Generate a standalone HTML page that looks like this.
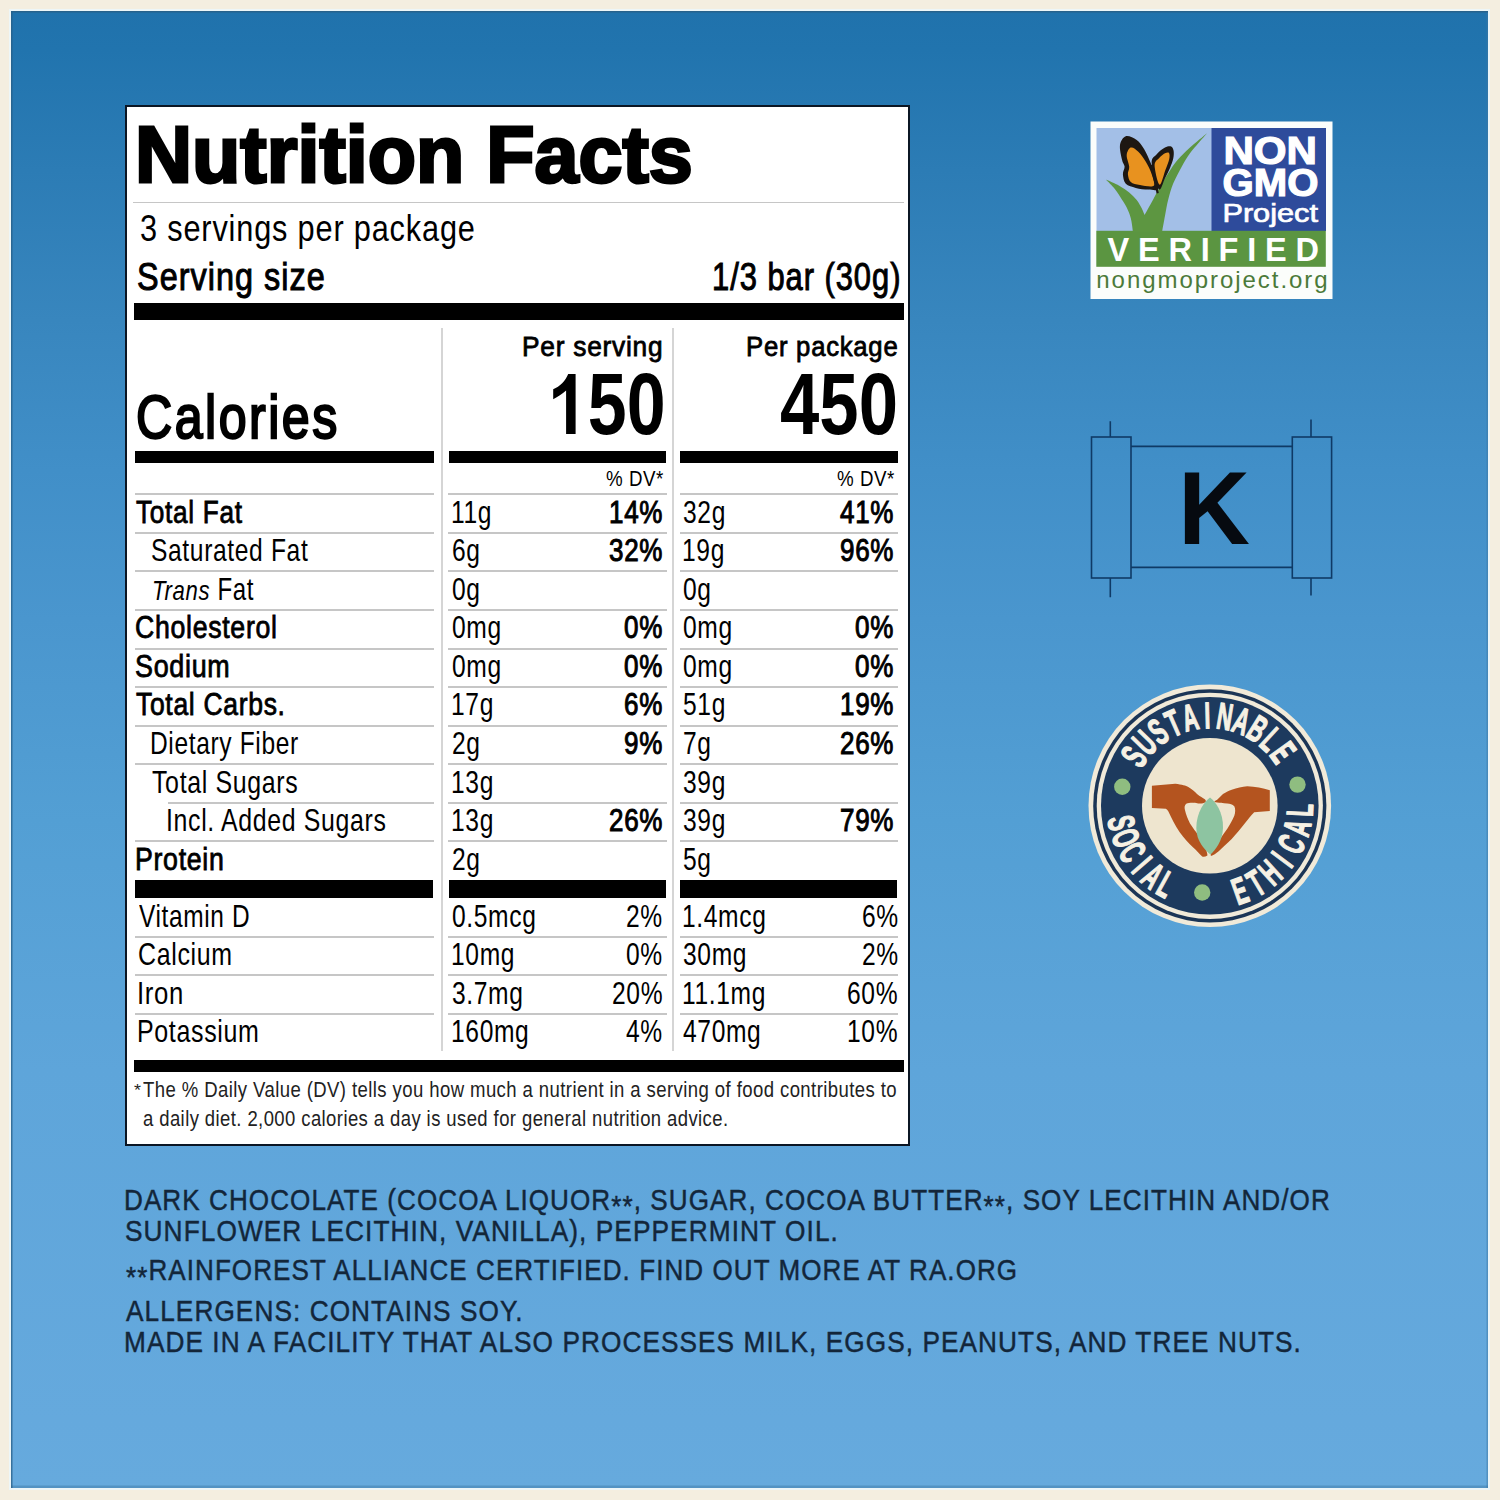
<!DOCTYPE html>
<html><head><meta charset="utf-8">
<style>
html,body{margin:0;padding:0;}
body{width:1500px;height:1500px;position:relative;overflow:hidden;background:#f4eee0;font-family:"Liberation Sans",sans-serif;}
#bg{position:absolute;left:11px;top:11px;width:1477px;height:1477px;background:linear-gradient(to bottom,#2072ac 0%,#2174ae 2.6%,#2c7cb5 10.8%,#3886be 20.9%,#418fc8 31.1%,#4a96ce 41.2%,#539fd4 54.8%,#5ea5da 71.7%,#65a9dd 95.4%,#66aadd 100%);box-shadow:0 0 0 2px #edf6f8,inset 0 1.5px 0 #27628c,inset 1.5px 0 0 rgba(40,95,135,.75),inset 0 -2.5px 0 rgba(60,120,165,.45),inset -1.5px 0 0 rgba(60,120,165,.5);}
#label{position:absolute;left:125px;top:105px;width:781px;height:1037px;border:2px solid #0b1624;background:#fff;}
.t{position:absolute;white-space:nowrap;transform-origin:0 0;}
.r{position:absolute;background:#000;}
.g{position:absolute;background:#c6c6c6;}
.v{position:absolute;background:#d5d5d5;}
</style></head><body>
<div id="bg"></div>
<div id="label"></div>
<div class="g" style="left:133px;top:202.3px;width:771.00px;height:1.20px"></div>
<div class="r" style="left:133.5px;top:302.5px;width:770.30px;height:17.80px"></div>
<div class="v" style="left:441px;top:328px;width:1.80px;height:723.00px"></div>
<div class="v" style="left:672.3px;top:328px;width:1.80px;height:723.00px"></div>
<div class="r" style="left:135px;top:451px;width:298.50px;height:12.30px"></div>
<div class="r" style="left:448.6px;top:451px;width:217.60px;height:12.30px"></div>
<div class="r" style="left:679.6px;top:451px;width:218.20px;height:12.30px"></div>
<div class="g" style="left:134.6px;top:493.3px;width:299.10px;height:2.00px"></div>
<div class="g" style="left:448px;top:493.3px;width:218.60px;height:2.00px"></div>
<div class="g" style="left:679.9px;top:493.3px;width:218.00px;height:2.00px"></div>
<div class="g" style="left:134.6px;top:531.86px;width:299.10px;height:2.00px"></div>
<div class="g" style="left:448px;top:531.86px;width:218.60px;height:2.00px"></div>
<div class="g" style="left:679.9px;top:531.86px;width:218.00px;height:2.00px"></div>
<div class="g" style="left:134.6px;top:570.4200000000001px;width:299.10px;height:2.00px"></div>
<div class="g" style="left:448px;top:570.4200000000001px;width:218.60px;height:2.00px"></div>
<div class="g" style="left:679.9px;top:570.4200000000001px;width:218.00px;height:2.00px"></div>
<div class="g" style="left:134.6px;top:608.98px;width:299.10px;height:2.00px"></div>
<div class="g" style="left:448px;top:608.98px;width:218.60px;height:2.00px"></div>
<div class="g" style="left:679.9px;top:608.98px;width:218.00px;height:2.00px"></div>
<div class="g" style="left:134.6px;top:647.54px;width:299.10px;height:2.00px"></div>
<div class="g" style="left:448px;top:647.54px;width:218.60px;height:2.00px"></div>
<div class="g" style="left:679.9px;top:647.54px;width:218.00px;height:2.00px"></div>
<div class="g" style="left:134.6px;top:686.1px;width:299.10px;height:2.00px"></div>
<div class="g" style="left:448px;top:686.1px;width:218.60px;height:2.00px"></div>
<div class="g" style="left:679.9px;top:686.1px;width:218.00px;height:2.00px"></div>
<div class="g" style="left:134.6px;top:724.6600000000001px;width:299.10px;height:2.00px"></div>
<div class="g" style="left:448px;top:724.6600000000001px;width:218.60px;height:2.00px"></div>
<div class="g" style="left:679.9px;top:724.6600000000001px;width:218.00px;height:2.00px"></div>
<div class="g" style="left:134.6px;top:763.22px;width:299.10px;height:2.00px"></div>
<div class="g" style="left:448px;top:763.22px;width:218.60px;height:2.00px"></div>
<div class="g" style="left:679.9px;top:763.22px;width:218.00px;height:2.00px"></div>
<div class="g" style="left:167.7px;top:801.78px;width:266.00px;height:2.00px"></div>
<div class="g" style="left:448px;top:801.78px;width:218.60px;height:2.00px"></div>
<div class="g" style="left:679.9px;top:801.78px;width:218.00px;height:2.00px"></div>
<div class="g" style="left:134.6px;top:840.34px;width:299.10px;height:2.00px"></div>
<div class="g" style="left:448px;top:840.34px;width:218.60px;height:2.00px"></div>
<div class="g" style="left:679.9px;top:840.34px;width:218.00px;height:2.00px"></div>
<div class="r" style="left:135px;top:879.7px;width:298.30px;height:18.50px"></div>
<div class="r" style="left:448.6px;top:879.7px;width:217.80px;height:18.50px"></div>
<div class="r" style="left:679.6px;top:879.7px;width:217.70px;height:18.50px"></div>
<div class="g" style="left:134.6px;top:935.8px;width:299.10px;height:2.00px"></div>
<div class="g" style="left:448px;top:935.8px;width:218.60px;height:2.00px"></div>
<div class="g" style="left:679.9px;top:935.8px;width:218.00px;height:2.00px"></div>
<div class="g" style="left:134.6px;top:974.2px;width:299.10px;height:2.00px"></div>
<div class="g" style="left:448px;top:974.2px;width:218.60px;height:2.00px"></div>
<div class="g" style="left:679.9px;top:974.2px;width:218.00px;height:2.00px"></div>
<div class="g" style="left:134.6px;top:1013.0px;width:299.10px;height:2.00px"></div>
<div class="g" style="left:448px;top:1013.0px;width:218.60px;height:2.00px"></div>
<div class="g" style="left:679.9px;top:1013.0px;width:218.00px;height:2.00px"></div>
<div class="r" style="left:133.5px;top:1060px;width:770.50px;height:12.20px"></div>
<div class="t" style="left:134.52px;top:114.80px;font-size:79.5px;line-height:79.5px;font-weight:bold;transform:scaleX(0.9942);-webkit-text-stroke:3.0px #000;">Nutrition Facts</div>
<div class="t" style="left:139.53px;top:209.80px;font-size:37.0px;line-height:37.0px;transform:scaleX(0.8298);letter-spacing:1.0px;">3 servings per package</div>
<div class="t" style="left:137.20px;top:258.00px;font-size:38.0px;line-height:38.0px;transform:scaleX(0.8528);letter-spacing:1.2px;-webkit-text-stroke:1.0px #000;">Serving size</div>
<div class="t" style="left:711.76px;top:258.00px;font-size:38.0px;line-height:38.0px;transform:scaleX(0.8122);letter-spacing:1.2px;-webkit-text-stroke:1.0px #000;">1/3 bar (30g)</div>
<div class="t" style="left:136.06px;top:387.30px;font-size:61.0px;line-height:61.0px;transform:scaleX(0.8224);letter-spacing:3.0px;-webkit-text-stroke:2.3px #000;">Calories</div>
<div class="t" style="left:522.42px;top:333.00px;font-size:27.5px;line-height:27.5px;transform:scaleX(0.9556);letter-spacing:0.8px;-webkit-text-stroke:0.8px #000;">Per serving</div>
<div class="t" style="left:745.77px;top:333.20px;font-size:27.5px;line-height:27.5px;transform:scaleX(0.9340);letter-spacing:0.8px;-webkit-text-stroke:0.8px #000;">Per package</div>
<div class="t" style="left:548.99px;top:361.00px;font-size:87.6px;line-height:87.6px;font-weight:bold;transform:scaleX(0.7974);"><span style="visibility:hidden">1</span>50</div>
<div class="t" style="left:779.71px;top:361.00px;font-size:87.6px;line-height:87.6px;font-weight:bold;transform:scaleX(0.8071);">450</div>
<div class="t" style="left:606.02px;top:467.50px;font-size:22.4px;line-height:22.4px;transform:scaleX(0.8374);letter-spacing:0.6px;">% DV*</div>
<div class="t" style="left:837.32px;top:467.50px;font-size:22.4px;line-height:22.4px;transform:scaleX(0.8374);letter-spacing:0.6px;">% DV*</div>
<div class="t" style="left:135.55px;top:496.60px;font-size:30.5px;line-height:30.5px;transform:scaleX(0.8586);letter-spacing:0.8px;-webkit-text-stroke:0.8px #000;">Total Fat</div>
<div class="t" style="left:450.88px;top:496.60px;font-size:30.5px;line-height:30.5px;transform:scaleX(0.8062);letter-spacing:0.8px;">11g</div>
<div class="t" style="left:609.01px;top:496.60px;font-size:30.5px;line-height:30.5px;transform:scaleX(0.8529);letter-spacing:0.8px;-webkit-text-stroke:1.0px #000;">14%</div>
<div class="t" style="left:682.64px;top:496.60px;font-size:30.5px;line-height:30.5px;transform:scaleX(0.8062);letter-spacing:0.8px;">32g</div>
<div class="t" style="left:840.21px;top:496.60px;font-size:30.5px;line-height:30.5px;transform:scaleX(0.8529);letter-spacing:0.8px;-webkit-text-stroke:1.0px #000;">41%</div>
<div class="t" style="left:151.02px;top:535.16px;font-size:30.5px;line-height:30.5px;transform:scaleX(0.8062);letter-spacing:0.8px;">Saturated Fat</div>
<div class="t" style="left:451.51px;top:535.16px;font-size:30.5px;line-height:30.5px;transform:scaleX(0.8062);letter-spacing:0.8px;">6g</div>
<div class="t" style="left:609.01px;top:535.16px;font-size:30.5px;line-height:30.5px;transform:scaleX(0.8529);letter-spacing:0.8px;-webkit-text-stroke:1.0px #000;">32%</div>
<div class="t" style="left:681.88px;top:535.16px;font-size:30.5px;line-height:30.5px;transform:scaleX(0.8062);letter-spacing:0.8px;">19g</div>
<div class="t" style="left:840.21px;top:535.16px;font-size:30.5px;line-height:30.5px;transform:scaleX(0.8529);letter-spacing:0.8px;-webkit-text-stroke:1.0px #000;">96%</div>
<div class="t" style="left:151.70px;top:573.72px;font-size:30.5px;line-height:30.5px;transform:scaleX(0.7892);letter-spacing:0.8px;"><i style="font-size:0.92em">Trans</i> Fat</div>
<div class="t" style="left:451.76px;top:573.72px;font-size:30.5px;line-height:30.5px;transform:scaleX(0.8062);letter-spacing:0.8px;">0g</div>
<div class="t" style="left:682.76px;top:573.72px;font-size:30.5px;line-height:30.5px;transform:scaleX(0.8062);letter-spacing:0.8px;">0g</div>
<div class="t" style="left:135.02px;top:612.28px;font-size:30.5px;line-height:30.5px;transform:scaleX(0.8746);letter-spacing:0.8px;-webkit-text-stroke:0.8px #000;">Cholesterol</div>
<div class="t" style="left:451.76px;top:612.28px;font-size:30.5px;line-height:30.5px;transform:scaleX(0.8062);letter-spacing:0.8px;">0mg</div>
<div class="t" style="left:623.94px;top:612.28px;font-size:30.5px;line-height:30.5px;transform:scaleX(0.8529);letter-spacing:0.8px;-webkit-text-stroke:1.0px #000;">0%</div>
<div class="t" style="left:682.76px;top:612.28px;font-size:30.5px;line-height:30.5px;transform:scaleX(0.8062);letter-spacing:0.8px;">0mg</div>
<div class="t" style="left:855.14px;top:612.28px;font-size:30.5px;line-height:30.5px;transform:scaleX(0.8529);letter-spacing:0.8px;-webkit-text-stroke:1.0px #000;">0%</div>
<div class="t" style="left:135.04px;top:650.84px;font-size:30.5px;line-height:30.5px;transform:scaleX(0.8821);letter-spacing:0.8px;-webkit-text-stroke:0.8px #000;">Sodium</div>
<div class="t" style="left:451.76px;top:650.84px;font-size:30.5px;line-height:30.5px;transform:scaleX(0.8062);letter-spacing:0.8px;">0mg</div>
<div class="t" style="left:623.94px;top:650.84px;font-size:30.5px;line-height:30.5px;transform:scaleX(0.8529);letter-spacing:0.8px;-webkit-text-stroke:1.0px #000;">0%</div>
<div class="t" style="left:682.76px;top:650.84px;font-size:30.5px;line-height:30.5px;transform:scaleX(0.8062);letter-spacing:0.8px;">0mg</div>
<div class="t" style="left:855.14px;top:650.84px;font-size:30.5px;line-height:30.5px;transform:scaleX(0.8529);letter-spacing:0.8px;-webkit-text-stroke:1.0px #000;">0%</div>
<div class="t" style="left:135.84px;top:689.40px;font-size:30.5px;line-height:30.5px;transform:scaleX(0.8683);letter-spacing:0.8px;-webkit-text-stroke:0.8px #000;">Total Carbs.</div>
<div class="t" style="left:450.88px;top:689.40px;font-size:30.5px;line-height:30.5px;transform:scaleX(0.8062);letter-spacing:0.8px;">17g</div>
<div class="t" style="left:623.94px;top:689.40px;font-size:30.5px;line-height:30.5px;transform:scaleX(0.8529);letter-spacing:0.8px;-webkit-text-stroke:1.0px #000;">6%</div>
<div class="t" style="left:682.63px;top:689.40px;font-size:30.5px;line-height:30.5px;transform:scaleX(0.8062);letter-spacing:0.8px;">51g</div>
<div class="t" style="left:840.21px;top:689.40px;font-size:30.5px;line-height:30.5px;transform:scaleX(0.8529);letter-spacing:0.8px;-webkit-text-stroke:1.0px #000;">19%</div>
<div class="t" style="left:150.36px;top:727.96px;font-size:30.5px;line-height:30.5px;transform:scaleX(0.8047);letter-spacing:0.8px;">Dietary Fiber</div>
<div class="t" style="left:451.53px;top:727.96px;font-size:30.5px;line-height:30.5px;transform:scaleX(0.8062);letter-spacing:0.8px;">2g</div>
<div class="t" style="left:623.94px;top:727.96px;font-size:30.5px;line-height:30.5px;transform:scaleX(0.8529);letter-spacing:0.8px;-webkit-text-stroke:1.0px #000;">9%</div>
<div class="t" style="left:682.51px;top:727.96px;font-size:30.5px;line-height:30.5px;transform:scaleX(0.8062);letter-spacing:0.8px;">7g</div>
<div class="t" style="left:840.21px;top:727.96px;font-size:30.5px;line-height:30.5px;transform:scaleX(0.8529);letter-spacing:0.8px;-webkit-text-stroke:1.0px #000;">26%</div>
<div class="t" style="left:151.83px;top:766.52px;font-size:30.5px;line-height:30.5px;transform:scaleX(0.8173);letter-spacing:0.8px;">Total Sugars</div>
<div class="t" style="left:450.88px;top:766.52px;font-size:30.5px;line-height:30.5px;transform:scaleX(0.8062);letter-spacing:0.8px;">13g</div>
<div class="t" style="left:682.64px;top:766.52px;font-size:30.5px;line-height:30.5px;transform:scaleX(0.8062);letter-spacing:0.8px;">39g</div>
<div class="t" style="left:166.22px;top:805.08px;font-size:30.5px;line-height:30.5px;transform:scaleX(0.8155);letter-spacing:0.8px;">Incl. Added Sugars</div>
<div class="t" style="left:450.88px;top:805.08px;font-size:30.5px;line-height:30.5px;transform:scaleX(0.8062);letter-spacing:0.8px;">13g</div>
<div class="t" style="left:609.01px;top:805.08px;font-size:30.5px;line-height:30.5px;transform:scaleX(0.8529);letter-spacing:0.8px;-webkit-text-stroke:1.0px #000;">26%</div>
<div class="t" style="left:682.64px;top:805.08px;font-size:30.5px;line-height:30.5px;transform:scaleX(0.8062);letter-spacing:0.8px;">39g</div>
<div class="t" style="left:840.21px;top:805.08px;font-size:30.5px;line-height:30.5px;transform:scaleX(0.8529);letter-spacing:0.8px;-webkit-text-stroke:1.0px #000;">79%</div>
<div class="t" style="left:134.90px;top:843.64px;font-size:30.5px;line-height:30.5px;transform:scaleX(0.8761);letter-spacing:0.8px;-webkit-text-stroke:0.8px #000;">Protein</div>
<div class="t" style="left:451.53px;top:843.64px;font-size:30.5px;line-height:30.5px;transform:scaleX(0.8062);letter-spacing:0.8px;">2g</div>
<div class="t" style="left:682.63px;top:843.64px;font-size:30.5px;line-height:30.5px;transform:scaleX(0.8062);letter-spacing:0.8px;">5g</div>
<div class="t" style="left:139.19px;top:900.50px;font-size:30.5px;line-height:30.5px;transform:scaleX(0.8016);letter-spacing:0.8px;">Vitamin D</div>
<div class="t" style="left:451.76px;top:900.50px;font-size:30.5px;line-height:30.5px;transform:scaleX(0.8062);letter-spacing:0.8px;">0.5mcg</div>
<div class="t" style="left:626.49px;top:900.50px;font-size:30.5px;line-height:30.5px;transform:scaleX(0.8062);letter-spacing:0.8px;">2%</div>
<div class="t" style="left:681.88px;top:900.50px;font-size:30.5px;line-height:30.5px;transform:scaleX(0.8062);letter-spacing:0.8px;">1.4mcg</div>
<div class="t" style="left:861.59px;top:900.50px;font-size:30.5px;line-height:30.5px;transform:scaleX(0.8062);letter-spacing:0.8px;">6%</div>
<div class="t" style="left:138.19px;top:939.10px;font-size:30.5px;line-height:30.5px;transform:scaleX(0.8188);letter-spacing:0.8px;">Calcium</div>
<div class="t" style="left:450.88px;top:939.10px;font-size:30.5px;line-height:30.5px;transform:scaleX(0.8062);letter-spacing:0.8px;">10mg</div>
<div class="t" style="left:626.49px;top:939.10px;font-size:30.5px;line-height:30.5px;transform:scaleX(0.8062);letter-spacing:0.8px;">0%</div>
<div class="t" style="left:682.64px;top:939.10px;font-size:30.5px;line-height:30.5px;transform:scaleX(0.8062);letter-spacing:0.8px;">30mg</div>
<div class="t" style="left:861.59px;top:939.10px;font-size:30.5px;line-height:30.5px;transform:scaleX(0.8062);letter-spacing:0.8px;">2%</div>
<div class="t" style="left:136.93px;top:977.70px;font-size:30.5px;line-height:30.5px;transform:scaleX(0.8423);letter-spacing:0.8px;">Iron</div>
<div class="t" style="left:451.64px;top:977.70px;font-size:30.5px;line-height:30.5px;transform:scaleX(0.8062);letter-spacing:0.8px;">3.7mg</div>
<div class="t" style="left:612.15px;top:977.70px;font-size:30.5px;line-height:30.5px;transform:scaleX(0.8062);letter-spacing:0.8px;">20%</div>
<div class="t" style="left:681.88px;top:977.70px;font-size:30.5px;line-height:30.5px;transform:scaleX(0.8062);letter-spacing:0.8px;">11.1mg</div>
<div class="t" style="left:847.25px;top:977.70px;font-size:30.5px;line-height:30.5px;transform:scaleX(0.8062);letter-spacing:0.8px;">60%</div>
<div class="t" style="left:137.43px;top:1016.30px;font-size:30.5px;line-height:30.5px;transform:scaleX(0.8189);letter-spacing:0.8px;">Potassium</div>
<div class="t" style="left:450.88px;top:1016.30px;font-size:30.5px;line-height:30.5px;transform:scaleX(0.8062);letter-spacing:0.8px;">160mg</div>
<div class="t" style="left:626.49px;top:1016.30px;font-size:30.5px;line-height:30.5px;transform:scaleX(0.8062);letter-spacing:0.8px;">4%</div>
<div class="t" style="left:683.22px;top:1016.30px;font-size:30.5px;line-height:30.5px;transform:scaleX(0.8062);letter-spacing:0.8px;">470mg</div>
<div class="t" style="left:847.25px;top:1016.30px;font-size:30.5px;line-height:30.5px;transform:scaleX(0.8062);letter-spacing:0.8px;">10%</div>
<div class="t" style="left:133.86px;top:1082.40px;font-size:16.5px;line-height:16.5px;color:#222;transform:scaleX(1.0827);">*</div>
<div class="t" style="left:143.16px;top:1079.40px;font-size:22.5px;line-height:22.5px;color:#222;transform:scaleX(0.8238);letter-spacing:0.5px;">The % Daily Value (DV) tells you how much a nutrient in a serving of food contributes to</div>
<div class="t" style="left:143.08px;top:1107.60px;font-size:22.5px;line-height:22.5px;color:#222;transform:scaleX(0.8216);letter-spacing:0.5px;">a daily diet. 2,000 calories a day is used for general nutrition advice.</div>
<div class="t" style="left:124.30px;top:1184.60px;font-size:29.5px;line-height:29.5px;color:#13263a;transform:scaleX(0.8843);letter-spacing:1.2px;-webkit-text-stroke:0.45px #13263a;">DARK CHOCOLATE (COCOA LIQUOR<span style="position:relative;top:0.22em">**</span>, SUGAR, COCOA BUTTER<span style="position:relative;top:0.22em">**</span>, SOY LECITHIN AND/OR</div>
<div class="t" style="left:125.12px;top:1215.70px;font-size:29.5px;line-height:29.5px;color:#13263a;transform:scaleX(0.8902);letter-spacing:1.2px;-webkit-text-stroke:0.45px #13263a;">SUNFLOWER LECITHIN, VANILLA), PEPPERMINT OIL.</div>
<div class="t" style="left:125.92px;top:1255.30px;font-size:29.5px;line-height:29.5px;color:#13263a;transform:scaleX(0.8831);letter-spacing:1.2px;-webkit-text-stroke:0.45px #13263a;"><span style="position:relative;top:0.22em">**</span>RAINFOREST ALLIANCE CERTIFIED. FIND OUT MORE AT RA.ORG</div>
<div class="t" style="left:126.15px;top:1296.00px;font-size:29.5px;line-height:29.5px;color:#13263a;transform:scaleX(0.8886);letter-spacing:1.2px;-webkit-text-stroke:0.45px #13263a;">ALLERGENS: CONTAINS SOY.</div>
<div class="t" style="left:124.29px;top:1327.00px;font-size:29.5px;line-height:29.5px;color:#13263a;transform:scaleX(0.8887);letter-spacing:1.2px;-webkit-text-stroke:0.45px #13263a;">MADE IN A FACILITY THAT ALSO PROCESSES MILK, EGGS, PEANUTS, AND TREE NUTS.</div>
<svg style="position:absolute;left:0;top:0" width="1500" height="1500" viewBox="0 0 1500 1500">
<rect x="1090.5" y="121.5" width="242" height="177.5" fill="#fbfdfb"/>
<rect x="1096.5" y="128" width="115.5" height="103" fill="#a3bfe7"/>
<rect x="1211.5" y="128" width="114.5" height="103" fill="#2e4b9b"/>
<rect x="1096.3" y="230.8" width="229.5" height="36" fill="#5b9541"/>
<path d="M1105.8 179.6 C1108.1 180.6,1115.3 183.7,1119.2 185.8 C1123.1 188.0,1126.2 190.1,1129.2 192.5 C1132.1 194.9,1134.6 197.4,1136.7 200.0 C1138.8 202.6,1140.3 205.8,1141.7 208.3 C1143.0 210.8,1144.1 213.9,1144.6 215.0 C1146.0 212.4,1150.6 204.2,1153.3 199.2 C1156.0 194.2,1158.2 189.6,1160.8 185.0 C1163.5 180.4,1166.4 175.8,1169.2 171.7 C1171.9 167.5,1174.0 164.0,1177.5 160.0 C1181.0 156.0,1185.1 151.9,1190.0 147.5 C1194.9 143.1,1204.2 135.7,1207.1 133.3 C1205.6 135.0,1201.2 140.0,1198.3 143.3 C1195.5 146.7,1192.8 149.4,1190.0 153.3 C1187.2 157.2,1184.4 161.7,1181.7 166.7 C1178.9 171.7,1175.6 177.9,1173.3 183.3 C1171.1 188.8,1169.7 193.8,1168.3 199.2 C1166.9 204.6,1166.0 210.4,1165.0 215.8 C1164.0 221.2,1162.6 229.0,1162.1 231.7 L1132.9 231.7 C1132.6 229.4,1131.9 222.4,1130.8 218.3 C1129.8 214.3,1128.2 210.7,1126.7 207.5 C1125.1 204.3,1123.6 202.2,1121.7 199.2 C1119.7 196.1,1117.6 192.4,1115.0 189.2 C1112.4 185.9,1107.4 181.2,1105.8 179.6 Z" fill="#5d9641"/>
<path d="M1125.8 136.2 C1128.6 135.4,1133.6 137.8,1136.7 140.0 C1139.7 142.2,1141.8 145.3,1144.2 149.2 C1146.5 153.1,1148.9 158.5,1150.8 163.3 C1152.8 168.2,1154.7 174.0,1155.8 178.3 C1157.0 182.6,1159.2 187.3,1157.9 189.2 C1156.7 191.0,1152.0 189.8,1148.3 189.6 C1144.7 189.4,1139.6 188.9,1135.8 187.9 C1132.1 186.9,1128.0 186.0,1125.8 183.8 C1123.7 181.5,1123.1 177.0,1122.9 174.2 C1122.7 171.3,1124.7 169.0,1124.6 166.7 C1124.4 164.3,1122.8 163.6,1122.1 160.0 C1121.3 156.4,1119.4 149.0,1120.0 145.0 C1120.6 141.0,1123.1 137.1,1125.8 136.2 Z" fill="#1d1712"/>
<path d="M1151.7 163.3 C1151.3 157.5,1154.4 156.8,1156.7 154.2 C1158.9 151.5,1162.6 148.8,1165.0 147.5 C1167.4 146.2,1169.8 145.9,1171.2 146.5 C1172.7 147.1,1173.2 148.9,1173.6 150.8 C1173.9 152.8,1173.9 155.5,1173.3 158.3 C1172.7 161.2,1171.4 164.6,1170.0 167.9 C1168.6 171.2,1166.9 174.8,1165.0 178.3 C1163.1 181.9,1161.0 191.7,1158.8 189.2 C1156.5 186.7,1152.0 169.2,1151.7 163.3 Z" fill="#1d1712"/>
<path d="M1130.8 147.5 C1132.8 146.9,1135.8 149.3,1138.3 151.7 C1140.8 154.0,1143.6 157.9,1145.8 161.7 C1148.1 165.4,1150.3 170.1,1151.7 174.2 C1153.0 178.2,1155.7 184.0,1153.8 185.8 C1151.8 187.6,1143.8 185.6,1140.0 185.0 C1136.2 184.4,1132.8 183.9,1130.8 182.1 C1128.8 180.3,1128.2 176.7,1127.9 174.2 C1127.6 171.6,1129.4 169.9,1129.2 166.7 C1129.0 163.5,1126.4 158.2,1126.7 155.0 C1126.9 151.8,1128.9 148.1,1130.8 147.5 Z" fill="#e8921f"/>
<path d="M1154.6 165.4 C1154.5 161.0,1157.4 159.9,1159.2 157.9 C1160.9 155.9,1163.4 154.2,1165.0 153.3 C1166.6 152.5,1168.3 151.9,1169.0 152.9 C1169.7 153.9,1169.8 156.3,1169.2 159.2 C1168.6 162.0,1167.0 165.8,1165.4 170.0 C1163.8 174.2,1161.4 185.3,1159.6 184.6 C1157.8 183.8,1154.7 169.9,1154.6 165.4 Z" fill="#e8921f"/>
<path d="M1151.2 165.0 L1157.7 193.3" stroke="#1d1712" stroke-width="2.2"/>
<text transform="translate(1270.2 164.0) scale(1.08 1)" font-family="Liberation Sans" font-size="39.0" font-weight="bold" fill="#fff" letter-spacing="0" text-anchor="middle" stroke="#fff" stroke-width="1.2">NON</text>
<text transform="translate(1270.4 196.3) scale(1.03 1)" font-family="Liberation Sans" font-size="39.0" font-weight="bold" fill="#fff" letter-spacing="0" text-anchor="middle" stroke="#fff" stroke-width="1.2">GMO</text>
<text transform="translate(1270.2 222.3) scale(1.16 1)" font-family="Liberation Sans" font-size="26.5" font-weight="normal" fill="#fff" letter-spacing="0" text-anchor="middle" stroke="#fff" stroke-width="0.7">Project</text>
<text transform="translate(1107.5 261.3) scale(1.0 1)" font-family="Liberation Sans" font-size="32.5" font-weight="bold" fill="#fff" letter-spacing="8.8" text-anchor="start">VERIFIED</text>
<text transform="translate(1096.3 287.5) scale(1.0 1)" font-family="Liberation Sans" font-size="24" font-weight="normal" fill="#4b7a39" letter-spacing="1.95" text-anchor="start">nongmoproject.org</text>
<path d="M575.6 374 L575.6 434 L566.1 434 L566.1 390.5 C562 394,558 396.5,553.2 399.2 L553.2 389.3 C560 386.5,565.3 381,568.2 374 Z" fill="#000"/>
<rect x="1091.5" y="437" width="39.5" height="141" fill="none" stroke="#0f3a66" stroke-width="1.6"/>
<rect x="1292.3" y="437" width="39.3" height="141" fill="none" stroke="#0f3a66" stroke-width="1.6"/>
<path d="M1131 446.4 H1292.3 M1131 567.4 H1292.3 M1110.3 421.3 V437 M1110.3 578 V597.2 M1311 419.5 V437 M1311 578 V595.4" fill="none" stroke="#0f3a66" stroke-width="1.6"/>
<text transform="translate(1178.3 543.8) scale(0.949 1)" font-family="Liberation Sans" font-size="104.5" font-weight="bold" fill="#060a10" letter-spacing="0" text-anchor="start">K</text>
<circle cx="1209.8" cy="805.8" r="121.3" fill="#f1ead9"/>
<circle cx="1209.8" cy="805.8" r="116.6" fill="#1b3556"/>
<circle cx="1209.8" cy="805.8" r="113.1" fill="#f1ead9"/>
<circle cx="1209.8" cy="805.8" r="108.8" fill="#1d3a5e"/>
<circle cx="1209.8" cy="805.8" r="67.8" fill="#eee5cf"/>
<circle cx="1122.3" cy="786.8" r="8.2" fill="#8fbd80"/>
<circle cx="1297.5" cy="784.6" r="8.2" fill="#8fbd80"/>
<circle cx="1202.2" cy="892.5" r="8.2" fill="#8fbd80"/>
<text transform="translate(1209.8 805.8) rotate(-57.00) translate(0 -77.5) scale(0.56 1)" font-family="Liberation Sans" font-weight="bold" font-size="37.5" fill="#f6f1e4" stroke="#f6f1e4" stroke-width="1.3" stroke-linejoin="round" text-anchor="middle">S</text>
<text transform="translate(1209.8 805.8) rotate(-45.90) translate(0 -77.5) scale(0.56 1)" font-family="Liberation Sans" font-weight="bold" font-size="37.5" fill="#f6f1e4" stroke="#f6f1e4" stroke-width="1.3" stroke-linejoin="round" text-anchor="middle">U</text>
<text transform="translate(1209.8 805.8) rotate(-34.80) translate(0 -77.5) scale(0.56 1)" font-family="Liberation Sans" font-weight="bold" font-size="37.5" fill="#f6f1e4" stroke="#f6f1e4" stroke-width="1.3" stroke-linejoin="round" text-anchor="middle">S</text>
<text transform="translate(1209.8 805.8) rotate(-23.70) translate(0 -77.5) scale(0.56 1)" font-family="Liberation Sans" font-weight="bold" font-size="37.5" fill="#f6f1e4" stroke="#f6f1e4" stroke-width="1.3" stroke-linejoin="round" text-anchor="middle">T</text>
<text transform="translate(1209.8 805.8) rotate(-12.60) translate(0 -77.5) scale(0.56 1)" font-family="Liberation Sans" font-weight="bold" font-size="37.5" fill="#f6f1e4" stroke="#f6f1e4" stroke-width="1.3" stroke-linejoin="round" text-anchor="middle">A</text>
<text transform="translate(1209.8 805.8) rotate(-1.50) translate(0 -77.5) scale(0.56 1)" font-family="Liberation Sans" font-weight="bold" font-size="37.5" fill="#f6f1e4" stroke="#f6f1e4" stroke-width="1.3" stroke-linejoin="round" text-anchor="middle">I</text>
<text transform="translate(1209.8 805.8) rotate(9.60) translate(0 -77.5) scale(0.56 1)" font-family="Liberation Sans" font-weight="bold" font-size="37.5" fill="#f6f1e4" stroke="#f6f1e4" stroke-width="1.3" stroke-linejoin="round" text-anchor="middle">N</text>
<text transform="translate(1209.8 805.8) rotate(20.70) translate(0 -77.5) scale(0.56 1)" font-family="Liberation Sans" font-weight="bold" font-size="37.5" fill="#f6f1e4" stroke="#f6f1e4" stroke-width="1.3" stroke-linejoin="round" text-anchor="middle">A</text>
<text transform="translate(1209.8 805.8) rotate(31.80) translate(0 -77.5) scale(0.56 1)" font-family="Liberation Sans" font-weight="bold" font-size="37.5" fill="#f6f1e4" stroke="#f6f1e4" stroke-width="1.3" stroke-linejoin="round" text-anchor="middle">B</text>
<text transform="translate(1209.8 805.8) rotate(42.90) translate(0 -77.5) scale(0.56 1)" font-family="Liberation Sans" font-weight="bold" font-size="37.5" fill="#f6f1e4" stroke="#f6f1e4" stroke-width="1.3" stroke-linejoin="round" text-anchor="middle">L</text>
<text transform="translate(1209.8 805.8) rotate(54.00) translate(0 -77.5) scale(0.56 1)" font-family="Liberation Sans" font-weight="bold" font-size="37.5" fill="#f6f1e4" stroke="#f6f1e4" stroke-width="1.3" stroke-linejoin="round" text-anchor="middle">E</text>
<text transform="translate(1209.8 805.8) rotate(79.00) translate(0 103) scale(0.56 1)" font-family="Liberation Sans" font-weight="bold" font-size="37.5" fill="#f6f1e4" stroke="#f6f1e4" stroke-width="1.3" stroke-linejoin="round" text-anchor="middle">S</text>
<text transform="translate(1209.8 805.8) rotate(69.00) translate(0 103) scale(0.56 1)" font-family="Liberation Sans" font-weight="bold" font-size="37.5" fill="#f6f1e4" stroke="#f6f1e4" stroke-width="1.3" stroke-linejoin="round" text-anchor="middle">O</text>
<text transform="translate(1209.8 805.8) rotate(59.00) translate(0 103) scale(0.56 1)" font-family="Liberation Sans" font-weight="bold" font-size="37.5" fill="#f6f1e4" stroke="#f6f1e4" stroke-width="1.3" stroke-linejoin="round" text-anchor="middle">C</text>
<text transform="translate(1209.8 805.8) rotate(49.00) translate(0 103) scale(0.56 1)" font-family="Liberation Sans" font-weight="bold" font-size="37.5" fill="#f6f1e4" stroke="#f6f1e4" stroke-width="1.3" stroke-linejoin="round" text-anchor="middle">I</text>
<text transform="translate(1209.8 805.8) rotate(39.00) translate(0 103) scale(0.56 1)" font-family="Liberation Sans" font-weight="bold" font-size="37.5" fill="#f6f1e4" stroke="#f6f1e4" stroke-width="1.3" stroke-linejoin="round" text-anchor="middle">A</text>
<text transform="translate(1209.8 805.8) rotate(29.00) translate(0 103) scale(0.56 1)" font-family="Liberation Sans" font-weight="bold" font-size="37.5" fill="#f6f1e4" stroke="#f6f1e4" stroke-width="1.3" stroke-linejoin="round" text-anchor="middle">L</text>
<text transform="translate(1209.8 805.8) rotate(-19.60) translate(0 103) scale(0.56 1)" font-family="Liberation Sans" font-weight="bold" font-size="37.5" fill="#f6f1e4" stroke="#f6f1e4" stroke-width="1.3" stroke-linejoin="round" text-anchor="middle">E</text>
<text transform="translate(1209.8 805.8) rotate(-30.90) translate(0 103) scale(0.56 1)" font-family="Liberation Sans" font-weight="bold" font-size="37.5" fill="#f6f1e4" stroke="#f6f1e4" stroke-width="1.3" stroke-linejoin="round" text-anchor="middle">T</text>
<text transform="translate(1209.8 805.8) rotate(-42.20) translate(0 103) scale(0.56 1)" font-family="Liberation Sans" font-weight="bold" font-size="37.5" fill="#f6f1e4" stroke="#f6f1e4" stroke-width="1.3" stroke-linejoin="round" text-anchor="middle">H</text>
<text transform="translate(1209.8 805.8) rotate(-53.50) translate(0 103) scale(0.56 1)" font-family="Liberation Sans" font-weight="bold" font-size="37.5" fill="#f6f1e4" stroke="#f6f1e4" stroke-width="1.3" stroke-linejoin="round" text-anchor="middle">I</text>
<text transform="translate(1209.8 805.8) rotate(-64.80) translate(0 103) scale(0.56 1)" font-family="Liberation Sans" font-weight="bold" font-size="37.5" fill="#f6f1e4" stroke="#f6f1e4" stroke-width="1.3" stroke-linejoin="round" text-anchor="middle">C</text>
<text transform="translate(1209.8 805.8) rotate(-76.10) translate(0 103) scale(0.56 1)" font-family="Liberation Sans" font-weight="bold" font-size="37.5" fill="#f6f1e4" stroke="#f6f1e4" stroke-width="1.3" stroke-linejoin="round" text-anchor="middle">A</text>
<text transform="translate(1209.8 805.8) rotate(-87.40) translate(0 103) scale(0.56 1)" font-family="Liberation Sans" font-weight="bold" font-size="37.5" fill="#f6f1e4" stroke="#f6f1e4" stroke-width="1.3" stroke-linejoin="round" text-anchor="middle">L</text>
<path d="M1151.9 785.8 L1175.3 783.7 C1182 784.5,1186 785.5,1188.3 787.1 C1192 789.5,1195 792,1197 794.1 C1200 796.5,1203 798,1204.8 799.3 C1206 800.5,1206 801.5,1205.7 801.9 C1204 803,1202 803.6,1200.5 803.6 C1197 803.3,1195 802.8,1193.5 802.7 C1190 802.6,1188 803,1186.6 803.6 C1184.5 805,1184.3 807.5,1184.9 809.7 C1186 815,1188 819,1190 823.5 C1193 828,1196 832,1198.7 835.7 C1201.5 840,1204 844.5,1205.7 848.7 C1206.8 851.5,1207.5 854,1207.4 855.6 C1205.5 856.8,1203.5 857,1202.2 856.5 C1199 853.5,1196.5 850.5,1193.5 847.8 C1188.5 843,1184 838,1179.7 832.2 C1175 825,1171.5 818,1168.4 811.4 C1167.5 810,1166.8 809.2,1165.8 808.8 L1151.9 807.9 Z" fill="#b4541f"/>
<path d="M1269.8 790.2 L1269.8 811 L1254.2 812.3 C1251 815.5,1248 819.5,1244.7 823.5 C1240.5 829,1236 834,1231.7 839.1 C1227 843.5,1223 847.5,1218.7 851.3 C1216 853.5,1213.5 855.3,1210.9 856 C1210.5 854.5,1211 853,1211.7 852.1 C1214 848.5,1216.5 844.5,1218.7 840.9 C1221.5 836.5,1224.5 832.5,1227.3 828.7 C1230 824.5,1232.5 820,1234.3 815.7 C1235.5 812.5,1235.5 808.5,1234.3 806.2 C1232.5 804.3,1230 803.8,1227.3 803.6 C1225 803.3,1223 803,1221.3 802.7 C1218.5 802.5,1216 802.2,1214.3 801.9 C1214.8 801,1215.8 800.6,1216.9 800.1 C1219 798,1221 796,1223 794.1 C1226 792,1229 790.8,1231.7 789.7 C1237 788,1242 787,1247.3 786.3 C1255 786.5,1263 788,1269.8 790.2 Z" fill="#b4541f"/>
<path d="M1210 797.5 C1215 801,1223.5 812,1223 828 C1222.5 842,1215 850,1210.5 854.5 C1205 850,1196.5 842,1196.3 828 C1196.3 812,1205 801,1210 797.5 Z" fill="#8dc4a1"/>
</svg>
</body></html>
